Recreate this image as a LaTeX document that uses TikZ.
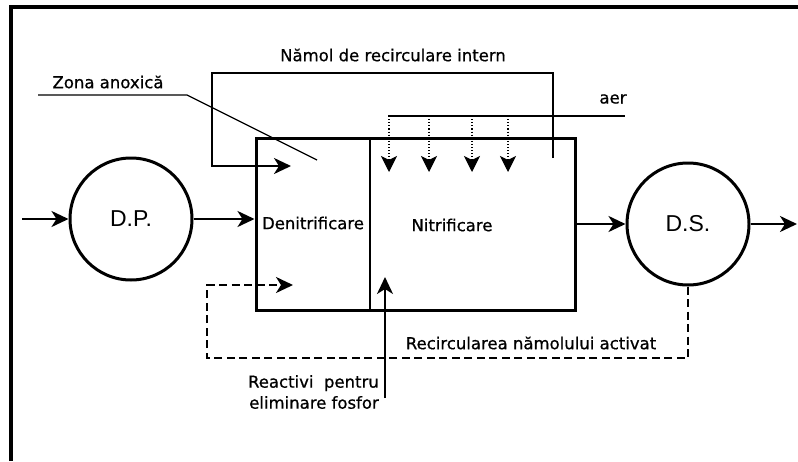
\documentclass[tikz,border=0pt]{standalone}
\usepackage{fontspec}
\setmainfont{DejaVu Sans}
\newfontfamily\txtfont{DejaVu Sans}[FakeBold=0.7]
\newfontfamily\labelfont{Liberation Sans}
\usetikzlibrary{arrows.meta}
\begin{document}
\begin{tikzpicture}[x=1pt,y=-1pt,
  frame/.style={line width=3.2pt},
  unit/.style={circle, draw, line width=3pt, minimum size=122pt, inner sep=0pt,
    font=\labelfont\fontsize{23}{26}\selectfont},
  tankbox/.style={draw, line width=3pt, inner sep=0pt},
  txt/.style={font=\txtfont\fontsize{16.5}{21}\selectfont, inner sep=0pt},
  tip/.style={-{Stealth[length=17pt,width=16pt,inset=5pt]}},
  flow/.style={line width=2.4pt, tip},
  drop/.style={line width=1.1pt, dotted, -{Stealth[length=16pt,width=16pt,inset=4pt]}},
  ras/.style={line width=2.2pt, dash pattern=on 8pt off 4.5pt, tip},
  leader/.style={line width=1.2pt}]
\useasboundingbox (0,0) rectangle (798,461);
\fill[white] (0,0) rectangle (798,461);

% outer frame (left and top edges)
\coordinate (fbl) at (11,461);
\coordinate (ftl) at (11,7);
\coordinate (ftr) at (798,7);
\draw[frame] (fbl) -- (ftl) -- (ftr);

% settlers and reactor
\node[unit] (dp) at (131,219) {D.P.};
\node[unit] (ds) at (688,224) {D.S.};
\node[tankbox, minimum width=319pt, minimum height=172pt] (tank) at (415.5,224) {};
\coordinate (divtop) at (370,138);
\coordinate (divbot) at (370,310);
\draw[line width=1.8pt] (divtop) -- (divbot);
\node[txt] (den) at (313,223) {Denitrificare};
\node[txt] (nit) at (452,225) {Nitrificare};

% main flow line
\coordinate (in) at (22,219);
\coordinate (out) at (797,224);
\draw[flow] (in) -- (dp.west);
\draw[flow] (dp.east) -- (dp.east -| tank.west);
\draw[flow] (ds.west -| tank.east) -- (ds.west);
\draw[flow] (ds.east) -- (out);

% internal sludge recirculation
\coordinate (ir0) at (553,158);
\coordinate (ir1) at (553,73);
\coordinate (ir2) at (212,73);
\coordinate (ir3) at (212,166);
\coordinate (ir4) at (291,166);
\draw[flow] (ir0) -- (ir1) -- (ir2) -- (ir3) -- (ir4);
\node[txt] (irlbl) at (393,55) {Nămol de recirculare intern};

% anoxic zone leader
\coordinate (za0) at (38,95);
\coordinate (za1) at (187,95);
\coordinate (za2) at (317,160);
\draw[leader] (za0) -- (za1) -- (za2);
\node[txt] (zalbl) at (108,82) {Zona anoxică};

% air supply with diffusers
\coordinate (air0) at (388,116);
\coordinate (air1) at (625,116);
\draw[line width=1.5pt] (air0) -- (air1);
\node[txt] (airlbl) at (613,99) {aer};
\foreach \x [count=\i] in {389,429,472,508} {
  \coordinate (d\i a) at (\x,116);
  \coordinate (d\i b) at (\x,172);
  \draw[drop] (d\i a) -- (d\i b);
}

% return activated sludge
\coordinate (r1) at (688,358);
\coordinate (r2) at (207,358);
\coordinate (r3) at (207,285);
\coordinate (r4) at (293,285);
\draw[ras] (ds.south) -- (r1) -- (r2) -- (r3) -- (r4);
\node[txt] (raslbl) at (531,343) {Recircularea nămolului activat};

% phosphorus removal reagent dosing
\coordinate (p0) at (385,398);
\coordinate (p1) at (385,277);
\draw[line width=1.8pt, tip] (p0) -- (p1);
\node[txt, align=right, anchor=east] (plbl) at (379,392) {Reactivi\ \ pentru\\eliminare fosfor};
\end{tikzpicture}
\end{document}
